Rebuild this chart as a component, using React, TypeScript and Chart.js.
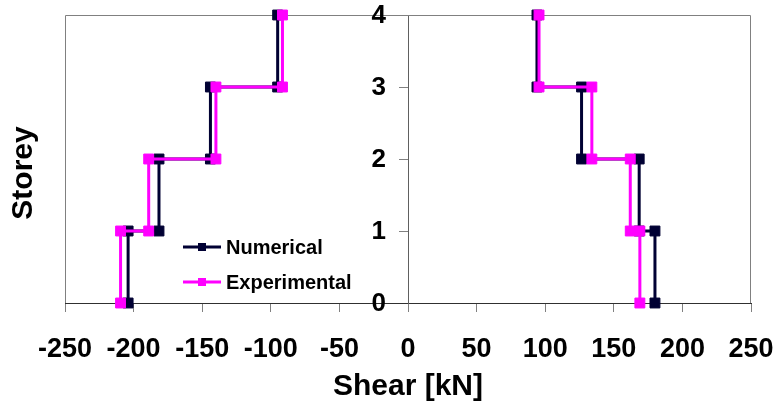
import { useEffect, useRef } from 'react';
import { Chart, registerables } from 'chart.js';

Chart.register(...registerables);

// Storey levels and the shear carried in each storey (segment i spans storey i to i+1)
const storeys = [0, 1, 2, 3, 4];
const numericalNeg = [-204, -181.5, -144, -95];
const experimentalNeg = [-209.5, -189, -140, -91.5];
const numericalPos = [180, 168.5, 126.5, 94];
const experimentalPos = [169, 162, 134, 95.5];

const xTicks = [-250, -200, -150, -100, -50, 0, 50, 100, 150, 200, 250];
const yTicks = [0, 1, 2, 3, 4];

const FONT = "'Liberation Sans', Arial, sans-serif";
const NAVY = '#000033';
const MAGENTA = '#FF00FF';

type Pt = { x: number; y: number | null };

// Turn per-storey values into a stepped profile (vertical run, then horizontal jump)
function stepProfile(values: number[]): Pt[] {
  const pts: Pt[] = [];
  values.forEach((v, i) => {
    pts.push({ x: v, y: storeys[i] });
    pts.push({ x: v, y: storeys[i + 1] });
  });
  return pts;
}

function bothSides(neg: number[], pos: number[]): Pt[] {
  return [...stepProfile(neg), { x: 0, y: null }, ...stepProfile(pos)];
}

// Keep scales from pushing the plot area inwards for their edge labels
function noEdgePadding(s: any) {
  s.paddingLeft = 0;
  s.paddingRight = 0;
  s.paddingTop = 0;
  s.paddingBottom = 0;
}

const framePlugin = {
  id: 'plotFrame',
  beforeDatasetsDraw(chart: any) {
    const { ctx, chartArea: a } = chart;
    ctx.save();
    ctx.strokeStyle = '#808080';
    ctx.lineWidth = 1;
    ctx.beginPath();
    ctx.moveTo(a.left + 0.5, a.bottom);
    ctx.lineTo(a.left + 0.5, a.top + 0.5);
    ctx.lineTo(a.right - 0.5, a.top + 0.5);
    ctx.lineTo(a.right - 0.5, a.bottom);
    ctx.stroke();
    ctx.restore();
  },
};

// Storey numbers sit just left of the central (zero-shear) axis
const centreLabelsPlugin = {
  id: 'centreLabels',
  afterDraw(chart: any) {
    const { ctx, scales } = chart;
    const axisX = scales.x.getPixelForValue(0);
    ctx.save();
    ctx.font = `bold 26px ${FONT}`;
    ctx.fillStyle = '#000';
    ctx.textAlign = 'right';
    ctx.textBaseline = 'middle';
    yTicks.forEach((v) => {
      ctx.fillText(String(v), axisX - 22, scales.y.getPixelForValue(v) + 1);
    });
    ctx.restore();
  },
};

const sideTitlePlugin = {
  id: 'storeyTitle',
  afterDraw(chart: any) {
    const { ctx } = chart;
    ctx.save();
    ctx.translate(24, 173);
    ctx.rotate(-Math.PI / 2);
    ctx.font = `bold 30px ${FONT}`;
    ctx.fillStyle = '#000';
    ctx.textAlign = 'center';
    ctx.textBaseline = 'middle';
    ctx.fillText('Storey', 0, 0);
    ctx.restore();
  },
};

const innerLegendPlugin = {
  id: 'innerLegend',
  afterDatasetsDraw(chart: any) {
    const { ctx, chartArea: a } = chart;
    ctx.save();
    chart.data.datasets.forEach((ds: any, i: number) => {
      const y = a.top + 232 + i * 35;
      const x0 = a.left + 118;
      const x1 = a.left + 156;
      const mx = (x0 + x1) / 2;
      ctx.strokeStyle = ds.borderColor;
      ctx.lineWidth = 3;
      ctx.beginPath();
      ctx.moveTo(x0, y);
      ctx.lineTo(x1, y);
      ctx.stroke();
      ctx.fillStyle = ds.borderColor;
      ctx.fillRect(mx - 4, y - 4, 8, 8);
      ctx.fillStyle = '#000';
      ctx.font = `bold 20px ${FONT}`;
      ctx.textAlign = 'left';
      ctx.textBaseline = 'middle';
      ctx.fillText(ds.label, a.left + 161, y + 1);
    });
    ctx.restore();
  },
};

export default function App() {
  const canvasRef = useRef<HTMLCanvasElement | null>(null);

  useEffect(() => {
    if (!canvasRef.current) return;
    const common = {
      borderWidth: 3,
      pointStyle: 'rect',
      pointRadius: 7,
      pointBorderWidth: 1,
      clip: false as any,
      spanGaps: false,
      tension: 0,
    };
    const chart = new Chart(canvasRef.current, {
      type: 'line',
      data: {
        datasets: [
          {
            ...common,
            label: 'Numerical',
            data: bothSides(numericalNeg, numericalPos) as any,
            borderColor: NAVY,
            backgroundColor: NAVY,
            pointBackgroundColor: NAVY,
            pointBorderColor: NAVY,
            order: 1,
          },
          {
            ...common,
            label: 'Experimental',
            data: bothSides(experimentalNeg, experimentalPos) as any,
            borderColor: MAGENTA,
            backgroundColor: MAGENTA,
            pointBackgroundColor: MAGENTA,
            pointBorderColor: MAGENTA,
            order: 0,
          },
        ],
      },
      options: {
        responsive: true,
        maintainAspectRatio: false,
        animation: false,
        events: [],
        layout: { padding: { left: 65, right: 26, top: 15, bottom: 0 } },
        plugins: { legend: { display: false }, tooltip: { enabled: false } },
        scales: {
          x: {
            type: 'linear',
            position: 'bottom',
            min: -250,
            max: 250,
            afterBuildTicks: (s: any) => {
              s.ticks = xTicks.map((v) => ({ value: v }));
            },
            afterFit: (s: any) => {
              s.height = 109;
              noEdgePadding(s);
            },
            ticks: {
              autoSkip: false,
              maxRotation: 0,
              color: '#000',
              padding: 21,
              font: { family: FONT, size: 27, weight: 'bold' },
            },
            grid: { drawOnChartArea: false, drawTicks: true, tickLength: 9, color: '#808080' },
            border: { color: '#303030', width: 1 },
            title: {
              display: true,
              text: 'Shear [kN]',
              color: '#000',
              font: { family: FONT, size: 30, weight: 'bold' },
              padding: { top: 0, bottom: 7 },
            },
          },
          y: {
            type: 'linear',
            position: { x: 0 } as any,
            min: 0,
            max: 4,
            afterBuildTicks: (s: any) => {
              s.ticks = yTicks.map((v) => ({ value: v }));
            },
            afterFit: noEdgePadding,
            ticks: {
              color: 'rgba(0,0,0,0)',
              font: { family: FONT, size: 26, weight: 'bold' },
            },
            grid: { drawOnChartArea: false, drawTicks: true, tickLength: 9, color: '#808080' },
            border: { color: '#606060', width: 1 },
          },
        },
      },
      plugins: [framePlugin, innerLegendPlugin, centreLabelsPlugin, sideTitlePlugin],
    } as any);
    return () => chart.destroy();
  }, []);

  return (
    <div style={{ position: 'fixed', left: 0, top: 0, width: 777, height: 412, background: '#fff' }}>
      <canvas ref={canvasRef} />
    </div>
  );
}
